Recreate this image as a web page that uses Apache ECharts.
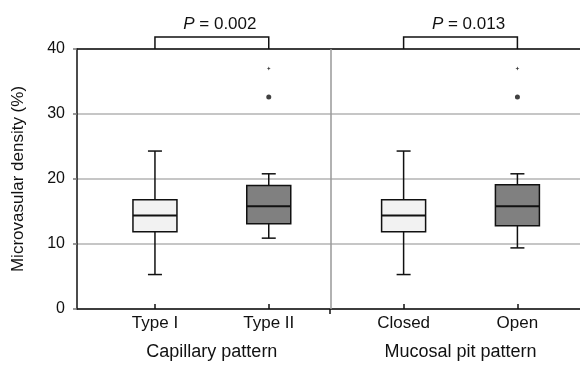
<!DOCTYPE html>
<html>
<head>
<meta charset="utf-8">
<script src="https://cdn.jsdelivr.net/npm/echarts@6/dist/echarts.min.js"></script>
<style>
  html, body { margin: 0; padding: 0; background: #fff; }
  #chart { width: 580px; height: 365px; }
</style>
</head>
<body>
<div id="chart"></div>
<script>
// values
const categories = ["Type I", "Type II", "Closed", "Open"];
const groups = ["Capillary pattern", "Mucosal pit pattern"];
const whiskerLow = [5.3, 10.9, 5.3, 9.4];
const q1 = [11.9, 13.1, 11.9, 12.8];
const median = [14.4, 15.8, 14.4, 15.8];
const q3 = [16.8, 19.0, 16.8, 19.1];
const whiskerHigh = [24.3, 20.8, 24.3, 20.8];
const outlierDots = [[1, 32.6], [3, 32.6]]; // [category index, value]
const outlierStars = [[1, 37.0], [3, 37.0]];
const pValues = ["0.002", "0.013"];
const pPairs = [[0, 1], [2, 3]];
const yTicks = [0, 10, 20, 30, 40];

// layout on the x value axis
const catPos = [0.685, 1.685, 2.87, 3.87];
const dividerPos = 2.225;
const xMax = 4.42;
const groupPos = [(catPos[0] + catPos[1]) / 2, (catPos[2] + catPos[3]) / 2];
const boxFill = ["#f2f2f2", "#808080", "#f2f2f2", "#808080"];

const font = "Liberation Sans, Arial, sans-serif";
const ink = "#111";

function nearest(arr, v) {
  let best = 0;
  arr.forEach((a, i) => {
    if (Math.abs(a - v) < Math.abs(arr[best] - v)) best = i;
  });
  return best;
}

function renderBox(params, api) {
  const i = api.value(0);
  const x = catPos[i];
  const lo = api.coord([x, api.value(1)]);
  const b1 = api.coord([x, api.value(2)]);
  const md = api.coord([x, api.value(3)]);
  const b3 = api.coord([x, api.value(4)]);
  const hi = api.coord([x, api.value(5)]);
  const cx = lo[0];
  const hw = 22, cw = 7;
  const line = { stroke: ink, lineWidth: 1.5 };
  return {
    type: "group",
    children: [
      { type: "line", shape: { x1: cx, y1: lo[1], x2: cx, y2: b1[1] }, style: line },
      { type: "line", shape: { x1: cx, y1: b3[1], x2: cx, y2: hi[1] }, style: line },
      { type: "line", shape: { x1: cx - cw, y1: lo[1], x2: cx + cw, y2: lo[1] }, style: line },
      { type: "line", shape: { x1: cx - cw, y1: hi[1], x2: cx + cw, y2: hi[1] }, style: line },
      {
        type: "rect",
        shape: { x: cx - hw, y: b3[1], width: hw * 2, height: b1[1] - b3[1] },
        style: { fill: boxFill[i], stroke: ink, lineWidth: 1.5 }
      },
      { type: "line", shape: { x1: cx - hw, y1: md[1], x2: cx + hw, y2: md[1] }, style: { stroke: ink, lineWidth: 2 } }
    ]
  };
}

function renderBracket(params, api) {
  const k = api.value(0);
  const [a, b] = pPairs[k];
  const p1 = api.coord([catPos[a], 40]);
  const p2 = api.coord([catPos[b], 40]);
  const top = p1[1] - 12;
  return {
    type: "group",
    children: [
      {
        type: "polyline",
        shape: { points: [[p1[0], p1[1]], [p1[0], top], [p2[0], top], [p2[0], p2[1]]] },
        style: { stroke: ink, lineWidth: 1.5, fill: null }
      },
      {
        type: "text",
        x: (p1[0] + p2[0]) / 2 + 8,
        y: top - 4,
        style: {
          text: "{i|P} = " + pValues[k],
          rich: { i: { fontStyle: "italic", fontSize: 17, fontFamily: font, fill: ink } },
          fontSize: 17,
          fontFamily: font,
          fill: ink,
          align: "center",
          verticalAlign: "bottom"
        }
      }
    ]
  };
}

const boxData = categories.map((c, i) => [i, whiskerLow[i], q1[i], median[i], q3[i], whiskerHigh[i]]);

const chart = echarts.init(document.getElementById("chart"), null, { renderer: "canvas" });
chart.setOption({
  animation: false,
  backgroundColor: "#fff",
  textStyle: { fontFamily: font },
  grid: { left: 77, right: 0, top: 49, bottom: 56 },
  xAxis: [
    {
      type: "value", min: 0, max: xMax, position: "bottom",
      splitLine: { show: false },
      axisLine: { show: true, lineStyle: { color: ink, width: 1.5 } },
      axisTick: { show: true, inside: true, length: 5, customValues: catPos, lineStyle: { color: ink, width: 1.5 } },
      axisLabel: {
        customValues: catPos, margin: 6, fontSize: 17, color: ink, fontFamily: font,
        formatter: v => categories[nearest(catPos, v)]
      }
    },
    {
      type: "value", min: 0, max: xMax, position: "bottom",
      splitLine: { show: false },
      axisLine: { show: false },
      axisTick: { show: true, length: 5, customValues: [dividerPos], lineStyle: { color: ink, width: 1.5 } },
      axisLabel: {
        customValues: groupPos, margin: 34, fontSize: 18, color: ink, fontFamily: font,
        formatter: v => groups[nearest(groupPos, v)]
      }
    },
    {
      type: "value", min: 0, max: xMax, position: "top",
      splitLine: { show: false },
      axisLine: { show: true, lineStyle: { color: ink, width: 1.5 } },
      axisTick: { show: false },
      axisLabel: { show: false }
    }
  ],
  yAxis: {
    type: "value", min: 0, max: 40, interval: 10,
    name: "Microvasular density (%)",
    nameLocation: "middle", nameGap: 50, nameRotate: 90,
    nameTextStyle: { fontSize: 17, color: ink, fontFamily: font },
    axisLine: { show: true, lineStyle: { color: ink, width: 1.5 } },
    axisTick: { show: true, length: 4, lineStyle: { color: "#777", width: 1.5 } },
    axisLabel: {
      fontSize: 16, color: ink, margin: 12, fontFamily: font,
      formatter: v => (yTicks.includes(v) ? String(v) : "")
    },
    splitLine: { show: true, lineStyle: { color: "#b3b3b3", width: 1.5 } }
  },
  series: [
    {
      type: "custom",
      xAxisIndex: 0,
      renderItem: renderBox,
      data: boxData,
      z: 5,
      markLine: {
        silent: true, symbol: "none", label: { show: false },
        lineStyle: { color: "#999", type: "solid", width: 1.5 },
        data: [{ xAxis: dividerPos }]
      }
    },
    {
      type: "scatter",
      symbol: "circle", symbolSize: 5,
      itemStyle: { color: "#111" },
      data: outlierDots.map(d => [catPos[d[0]], d[1]]),
      z: 6
    },
    {
      type: "scatter",
      symbol: "path://M0,-1L0.3,-0.3L1,0L0.3,0.3L0,1L-0.3,0.3L-1,0L-0.3,-0.3Z",
      symbolSize: 4,
      itemStyle: { color: "#111" },
      data: outlierStars.map(d => [catPos[d[0]], d[1]]),
      z: 6
    },
    {
      type: "custom",
      renderItem: renderBracket,
      clip: false,
      data: pValues.map((p, k) => [k]),
      z: 7
    }
  ]
});
</script>
</body>
</html>
